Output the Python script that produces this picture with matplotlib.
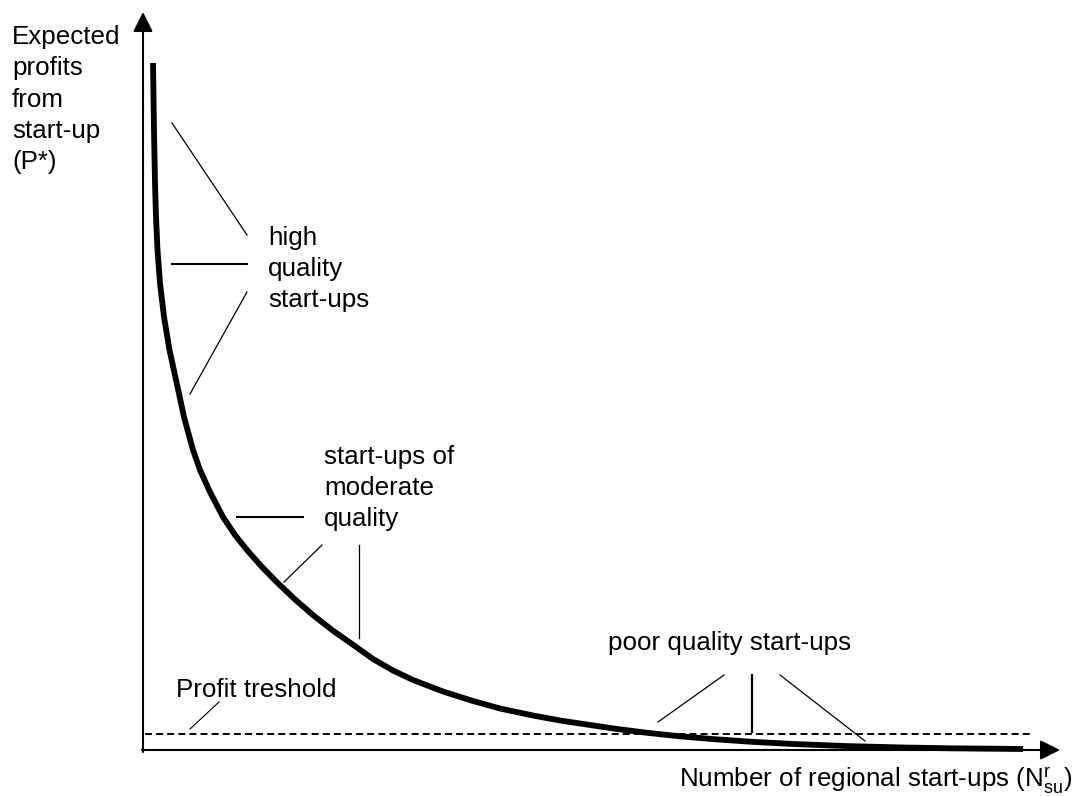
import matplotlib
matplotlib.use("Agg")
import matplotlib.pyplot as plt

plt.rcParams['font.family'] = ['Liberation Sans', 'DejaVu Sans']
plt.rcParams['lines.scale_dashes'] = False

# expected profits curve (arbitrary units, origin at axes corner)
curve_x = [10, 11, 12, 13, 14.5, 17, 21, 26.5, 33.7, 41, 50, 57, 67, 80, 92, 104,
           119, 134, 152, 170, 190, 210, 230, 250, 270, 300, 330, 357, 390, 417,
           445, 474, 505, 537, 570, 607, 650, 707, 760, 807, 880]
curve_y = [687, 620, 567, 533, 500, 467, 433, 400, 367, 333, 300, 280, 258, 233, 215, 200,
           183, 167.7, 150.6, 134.9, 119.3, 105.3, 91, 79.5, 70, 58.5, 49, 41.5, 34.5, 29.5,
           25.3, 21, 17.1, 13.7, 10.9, 8.3, 6.0, 3.8, 2.5, 1.7, 1.0]

x_max = 917
y_max = 738
threshold_y = 16
threshold_x = [2, 890]

# annotation pointer lines: (x0, y0, x1, y1, linewidth)
high_lines = [(29, 627, 104, 515, 0.9),
              (29, 486, 104, 486, 1.5),
              (104, 458, 47, 356, 0.9)]
moderate_lines = [(94, 233, 160, 233, 1.5),
                  (179, 205, 141, 168, 0.9),
                  (216, 205, 216, 112, 0.9)]
threshold_lines = [(76, 48, 47, 21, 0.8)]
poor_lines = [(581, 75, 515, 28, 0.9),
              (609, 75, 609, 18, 1.6),
              (637, 75, 722, 9, 0.9)]

# labels: (text, left x, baseline of last line)
labels = [("high\nquality\nstart-ups", 125, 443),
          ("start-ups of\nmoderate\nquality", 181, 224),
          ("Profit treshold", 33, 53),
          ("poor quality start-ups", 465, 100)]

fig = plt.figure(figsize=(10.81, 7.96), dpi=100)
ax = fig.add_axes([143/1081, 46/796, 917/1081, 738/796])
ax.set_xlim(0, x_max)
ax.set_ylim(0, y_max)
ax.axis('off')

# axes with arrows
arrow = dict(arrowstyle='-|>,head_length=0.4,head_width=0.2', lw=1.5, color='black',
             mutation_scale=30, shrinkA=0, shrinkB=0)
ax.annotate('', xy=(0, y_max), xytext=(0, -2), arrowprops=arrow, annotation_clip=False)
ax.annotate('', xy=(x_max, 0), xytext=(-1, 0), arrowprops=arrow, annotation_clip=False)

ax.plot(threshold_x, [threshold_y, threshold_y], color='black', lw=1.4,
        dashes=(5.0, 3.0), clip_on=False)
ax.plot(curve_x, curve_y, color='black', lw=4.2, solid_capstyle='butt',
        solid_joinstyle='round', clip_on=False)

for group in (high_lines, moderate_lines, threshold_lines, poor_lines):
    for x0, y0, x1, y1, w in group:
        ax.plot([x0, x1], [y0, y1], color='black', lw=w, clip_on=False)

fs = 18.7
ls = 1.38
for txt, x, y in labels:
    ax.text(x, y, txt, fontsize=fs, va='baseline', ha='left', linespacing=ls)

fig.text(12/1081, 1 - 169/796, "Expected\nprofits\nfrom\nstart-up\n(P*)",
         fontsize=fs, va='baseline', ha='left', linespacing=ls)
fig.text(1072/1081, 1 - 788/796,
         r"Number of regional start-ups (N$\mathregular{^{r}_{su}}$)",
         fontsize=fs, va='baseline', ha='right')

fig.savefig('out.png', dpi=100)
